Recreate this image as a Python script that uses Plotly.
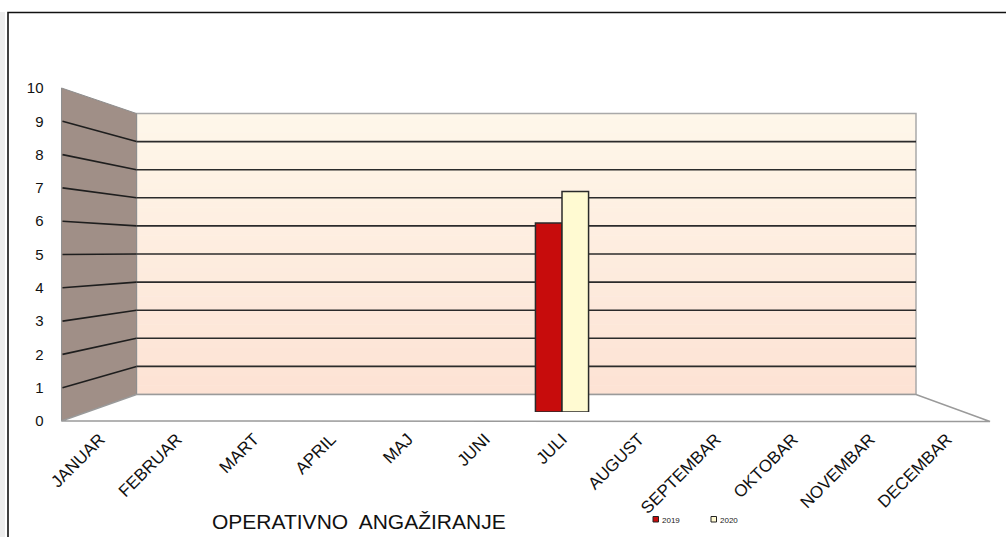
import plotly.graph_objects as go

# ---------------- data ----------------
months = ["JANUAR", "FEBRUAR", "MART", "APRIL", "MAJ", "JUNI",
          "JULI", "AUGUST", "SEPTEMBAR", "OKTOBAR", "NOVEMBAR", "DECEMBAR"]
series_names = ["2019", "2020"]
values_2019 = [None, None, None, None, None, None, 6, None, None, None, None, None]
values_2020 = [None, None, None, None, None, None, 7, None, None, None, None, None]
y_ticks = [0, 1, 2, 3, 4, 5, 6, 7, 8, 9, 10]
axis_title = "OPERATIVNO\u00a0 ANGAŽIRANJE"

series_values = [values_2019, values_2020]
series_colors = ["#c70c0c", "#fffad2"]

# ---------------- geometry (pixels) ----------------
W, H = 1006, 537
FONT = "Liberation Sans, Arial, sans-serif"
YMAX = y_ticks[-1]

FRONT_L, FRONT_R = 61.5, 985.5
FRONT_Y0, FRONT_Y10 = 421.0, 88.0
BACK_L, BACK_R = 136.5, 916.0
BACK_Y0, BACK_Y10 = 394.5, 113.5
BAR_Y0, BAR_Y10 = 412.0, 97.0
FLOOR_R = 990.0


def fx(p):
    return p / W


def fy(p):
    return 1 - p / H


def front_y(v):
    return FRONT_Y0 + (FRONT_Y10 - FRONT_Y0) * v / YMAX


def back_y(v):
    return BACK_Y0 + (BACK_Y10 - BACK_Y0) * v / YMAX


def path(points):
    s = "M " + " L ".join(f"{fx(x):.5f},{fy(y):.5f}" for x, y in points) + " Z"
    return s


shapes = []

# outer chart border
shapes.append(dict(type="rect", xref="paper", yref="paper",
                   x0=fx(0), x1=fx(5), y0=fy(12), y1=fy(560),
                   line=dict(width=0), fillcolor="#ececec", layer="below"))
shapes.append(dict(type="rect", xref="paper", yref="paper",
                   x0=fx(8), x1=fx(1020), y0=fy(12.5), y1=fy(560),
                   line=dict(color="#111111", width=1.6), fillcolor="rgba(0,0,0,0)",
                   layer="below"))

# back wall gradient strips
N = 60
top_rgb = (254, 247, 234)
bot_rgb = (253, 226, 212)
for i in range(N):
    t = (i + 0.5) / N
    c = tuple(int(round(top_rgb[k] + (bot_rgb[k] - top_rgb[k]) * t)) for k in range(3))
    y0 = BACK_Y10 + (BACK_Y0 - BACK_Y10) * i / N
    y1 = BACK_Y10 + (BACK_Y0 - BACK_Y10) * (i + 1) / N + 0.6
    shapes.append(dict(type="rect", xref="paper", yref="paper",
                       x0=fx(BACK_L), x1=fx(BACK_R), y0=fy(y0), y1=fy(y1),
                       line=dict(width=0), fillcolor=f"rgb{c}", layer="below"))
shapes.append(dict(type="rect", xref="paper", yref="paper",
                   x0=fx(BACK_L), x1=fx(BACK_R), y0=fy(BACK_Y10), y1=fy(BACK_Y0),
                   line=dict(color="#a9a9a9", width=1.5), fillcolor="rgba(0,0,0,0)",
                   layer="below"))

# side wall
shapes.append(dict(type="path", xref="paper", yref="paper",
                   path=path([(FRONT_L, FRONT_Y0), (FRONT_L, FRONT_Y10),
                              (BACK_L, BACK_Y10), (BACK_L, BACK_Y0)]),
                   fillcolor="#a08f87", line=dict(color="#8e8e8e", width=1),
                   layer="below"))

# floor
shapes.append(dict(type="path", xref="paper", yref="paper",
                   path=path([(FRONT_L, FRONT_Y0), (FLOOR_R, FRONT_Y0 + 0.5),
                              (BACK_R, BACK_Y0), (BACK_L, BACK_Y0)]),
                   fillcolor="#ffffff", line=dict(color="#9a9a9a", width=1.5),
                   layer="below"))

# gridlines
for v in y_ticks[1:-1]:
    shapes.append(dict(type="line", xref="paper", yref="paper",
                       x0=fx(BACK_L), x1=fx(BACK_R), y0=fy(back_y(v)), y1=fy(back_y(v)),
                       line=dict(color="#2b2b2b", width=1.6), layer="below"))
    shapes.append(dict(type="line", xref="paper", yref="paper",
                       x0=fx(FRONT_L + 1), x1=fx(BACK_L), y0=fy(front_y(v)), y1=fy(back_y(v)),
                       line=dict(color="#1e1e1e", width=1.6), layer="below"))

# ---------------- traces ----------------
fig = go.Figure()
# invisible trace so the front (tick-label) axis pair is drawn
fig.add_trace(go.Scatter(x=months, y=[None] * len(months), mode="markers",
                         xaxis="x", yaxis="y", showlegend=False, hoverinfo="skip"))
for name, vals, col in zip(series_names, series_values, series_colors):
    fig.add_trace(go.Bar(x=months, y=vals, name=name, marker_color=col,
                         marker_line=dict(color="#2a2a2a", width=1.5),
                         xaxis="x", yaxis="y2", showlegend=False))

# manual legend
annotations = []
LEG_X, LEG_Y, LEG_STEP = 653.0, 519.5, 58.0
for i, (name, col) in enumerate(zip(series_names, series_colors)):
    x0 = LEG_X + LEG_STEP * i
    shapes.append(dict(type="rect", xref="paper", yref="paper",
                       x0=fx(x0), x1=fx(x0 + 5.5), y0=fy(LEG_Y - 3), y1=fy(LEG_Y + 2.5),
                       fillcolor=col, line=dict(color="#222222", width=1)))
    annotations.append(dict(x=fx(x0 + 7), y=fy(LEG_Y + 0.5), xref="paper", yref="paper",
                            text=name, showarrow=False, xanchor="left", yanchor="middle",
                            font=dict(family=FONT, size=8, color="#222222")))

annotations.append(dict(x=fx(358.5), y=fy(521), xref="paper", yref="paper",
                        text=axis_title, showarrow=False, xanchor="center", yanchor="middle",
                        font=dict(family=FONT, size=21, color="#111111")))

fig.update_layout(
    width=W, height=H, autosize=False,
    margin=dict(l=0, r=0, t=0, b=0, pad=0),
    paper_bgcolor="white", plot_bgcolor="rgba(0,0,0,0)",
    bargap=0.31, bargroupgap=0.0, barmode="group",
    showlegend=False,
    shapes=shapes, annotations=annotations,
    font=dict(family=FONT, color="#111111"),
    xaxis=dict(type="category", categoryorder="array", categoryarray=months,
               domain=[fx(FRONT_L), fx(FRONT_R)], range=[-0.5, len(months) - 0.5],
               anchor="y", tickangle=-45, tickfont=dict(family=FONT, size=17, color="#111111"),
               showgrid=False, showline=False, zeroline=False, ticks="", automargin=False,
               ticklabelstandoff=4),
    yaxis=dict(domain=[fy(FRONT_Y0), fy(FRONT_Y10)], range=[0, YMAX],
               tickvals=y_ticks, ticktext=[str(t) for t in y_ticks],
               anchor="x", showgrid=False, showline=False, zeroline=False, ticks="",
               tickfont=dict(family=FONT, size=15, color="#111111"),
               ticklabelstandoff=17, automargin=False),
    yaxis2=dict(domain=[fy(BAR_Y0), fy(BAR_Y10)], range=[0, YMAX], anchor="x",
                visible=False, showgrid=False, zeroline=False, automargin=False),
)

fig.write_html("out.html",
               config={"displayModeBar": False},
               post_script="document.body.style.margin='0';"
                           "document.body.style.overflow='hidden';")
